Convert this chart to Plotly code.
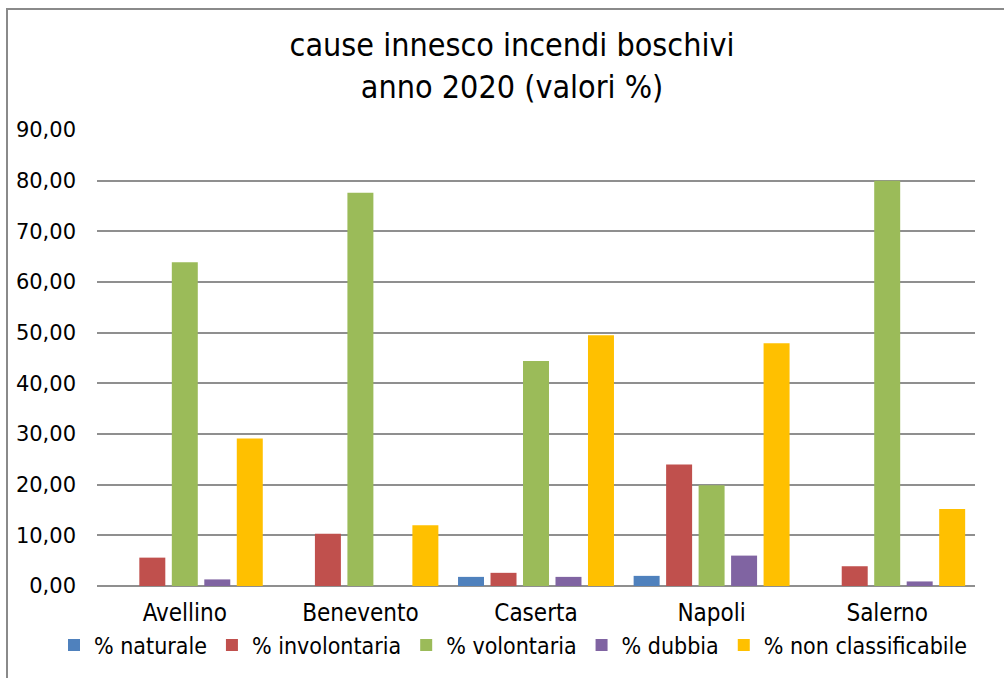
import plotly.graph_objects as go

categories = ["Avellino", "Benevento", "Caserta", "Napoli", "Salerno"]
series_names = ["% naturale", "% involontaria", "% volontaria", "% dubbia", "% non classificabile"]
naturale = [0, 0, 1.8, 2.0, 0]
involontaria = [5.6, 10.3, 2.6, 24.0, 3.9]
volontaria = [63.9, 77.6, 44.4, 19.9, 80.0]
dubbia = [1.3, 0, 1.8, 6.0, 0.9]
non_classificabile = [29.1, 12.0, 49.5, 47.9, 15.2]
y_ticks = [0, 10, 20, 30, 40, 50, 60, 70, 80, 90]
y_tick_labels = ["0,00", "10,00", "20,00", "30,00", "40,00", "50,00", "60,00", "70,00", "80,00", "90,00"]

colors = ["#4F81BD", "#C0504D", "#9BBB59", "#8064A2", "#FFC000"]
all_series = [naturale, involontaria, volontaria, dubbia, non_classificabile]

COND = "DejaVu Sans Condensed, DejaVu Sans, sans-serif"

fig = go.Figure()
for name, vals, col in zip(series_names, all_series, colors):
    fig.add_trace(go.Bar(x=categories, y=vals, name=name,
                         marker=dict(color=col, line=dict(width=0))))

W, H = 1004, 678
L, R, T, B = 97, 29, 130, 92
pw, ph = W - L - R, H - T - B

def px_x(p):
    return (p - L) / pw

def px_y(p):
    return (H - B - p) / ph

fig.update_layout(
    width=W, height=H,
    margin=dict(l=L, r=R, t=T, b=B),
    paper_bgcolor="white", plot_bgcolor="white",
    barmode="group", bargap=0.075, bargroupgap=0.2,
    title=dict(text="cause innesco incendi boschivi<br>anno 2020 (valori %)",
               x=0.51, xanchor="center", y=1 - 56 / H, yanchor="top",
               font=dict(family=COND, size=32, color="#000000")),
    showlegend=True,
    legend=dict(orientation="h", x=px_x(54), xanchor="left",
                y=px_y(645), yanchor="middle",
                font=dict(family=COND, size=23, color="#000000"),
                itemwidth=30, tracegroupgap=0, traceorder="normal",
                bgcolor="rgba(0,0,0,0)"),
    xaxis=dict(showgrid=False, showline=False, ticks="", ticklabelstandoff=10,
               tickfont=dict(family=COND, size=24, color="#000000")),
    yaxis=dict(range=[0, 90], tickvals=y_ticks, ticktext=y_tick_labels,
               showgrid=True, gridcolor="#8f8f8f", gridwidth=2,
               zeroline=True, zerolinecolor="#8f8f8f", zerolinewidth=2,
               showline=False, ticks="", ticklabelstandoff=20,
               tickfont=dict(family="DejaVu Sans, Verdana, sans-serif", size=21, color="#000000")),
    shapes=[dict(type="rect", xref="paper", yref="paper",
                 x0=px_x(7), x1=px_x(1010), y0=px_y(690), y1=px_y(9),
                 line=dict(color="#8a8a8a", width=2), fillcolor="rgba(0,0,0,0)",
                 layer="above")],
)

fig.write_html("out.html")
